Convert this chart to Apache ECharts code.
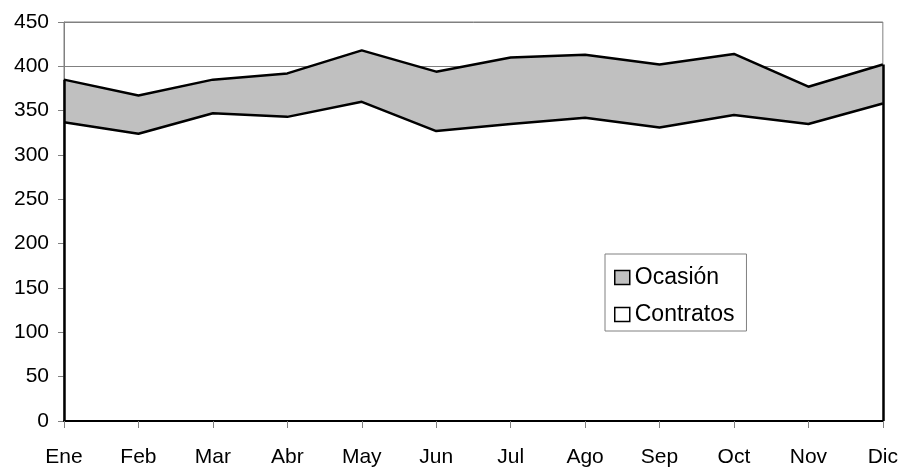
<!DOCTYPE html>
<html>
<head>
<meta charset="utf-8">
<script src="https://cdn.jsdelivr.net/npm/echarts@6/dist/echarts.min.js"></script>
<style>
html,body{margin:0;padding:0;background:#fff;}
#chart{width:901px;height:468px;}
</style>
</head>
<body>
<div id="chart"></div>
<script>
// Monthly figures, stacked: Contratos at the base, Ocasión on top
const months = ['Ene','Feb','Mar','Abr','May','Jun','Jul','Ago','Sep','Oct','Nov','Dic'];
const contratos = [337, 324, 347, 343, 360, 327, 335, 342, 331, 345, 335, 358];
const ocasion   = [48, 43, 38, 49, 58, 67, 75, 71, 71, 69, 42, 44];
const yTicks = [0, 50, 100, 150, 200, 250, 300, 350, 400, 450];

const firstIdx = 0;
const lastIdx = months.length - 1;
const totalAt = i => contratos[i] + ocasion[i];
const FONT = 'Liberation Sans, Arial, sans-serif';

// vertical outline of the stacked area at both ends
const edge = i => [{coord: [months[i], 0]}, {coord: [months[i], totalAt(i)]}];

const chart = echarts.init(document.getElementById('chart'), null, {renderer: 'canvas'});
chart.setOption({
  animation: false,
  backgroundColor: '#ffffff',
  grid: {
    left: 64, right: 18, top: 22, bottom: 46,
    show: true, borderColor: '#808080', borderWidth: 1, backgroundColor: 'transparent', z: 0
  },
  legend: {
    orient: 'vertical',
    left: 605, top: 254,
    padding: [12, 12, 5, 9],
    itemGap: 14,
    itemWidth: 15, itemHeight: 14,
    icon: 'rect',
    borderColor: '#808080', borderWidth: 1,
    backgroundColor: '#ffffff',
    textStyle: {fontFamily: FONT, fontSize: 23, color: '#000'},
    lineStyle: {width: 0},
    data: [
      {name: 'Ocasión', itemStyle: {color: '#c0c0c0', borderColor: '#000', borderWidth: 1.5}},
      {name: 'Contratos', itemStyle: {color: '#ffffff', borderColor: '#000', borderWidth: 1.5}}
    ]
  },
  xAxis: {
    type: 'category',
    data: months,
    boundaryGap: false,
    z: 5,
    axisLine: {lineStyle: {color: '#000', width: 2}},
    axisTick: {show: true, inside: false, length: 7, lineStyle: {color: '#808080', width: 1}},
    axisLabel: {fontFamily: FONT, fontSize: 21, color: '#000', margin: 26},
    splitLine: {show: false}
  },
  yAxis: [
    {
      type: 'value',
      min: 0, max: 450, interval: 50,
      z: 0,
      axisLine: {show: true, lineStyle: {color: '#808080', width: 1}},
      axisTick: {show: true, length: 6, lineStyle: {color: '#808080', width: 1}},
      axisLabel: {
        fontFamily: FONT, fontSize: 21, color: '#000', margin: 15,
        formatter: v => yTicks.includes(v) ? String(v) : ''
      },
      splitLine: {show: true, lineStyle: {color: '#808080', width: 1}}
    }
  ],
  series: [
    {
      name: 'Contratos',
      type: 'line',
      stack: 'total',
      data: contratos,
      z: 1,
      symbol: 'none',
      lineStyle: {color: '#000', width: 2.5},
      itemStyle: {color: '#ffffff'},
      areaStyle: {color: '#ffffff', opacity: 1}
    },
    {
      name: 'Ocasión',
      type: 'line',
      stack: 'total',
      data: ocasion,
      z: 1,
      symbol: 'none',
      lineStyle: {color: '#000', width: 2.5},
      itemStyle: {color: '#c0c0c0'},
      areaStyle: {color: '#c0c0c0', opacity: 1},
      markLine: {
        silent: true,
        symbol: 'none',
        label: {show: false},
        lineStyle: {color: '#000', width: 2.5, type: 'solid'},
        data: [edge(firstIdx), edge(lastIdx)]
      }
    }
  ]
});
</script>
</body>
</html>
